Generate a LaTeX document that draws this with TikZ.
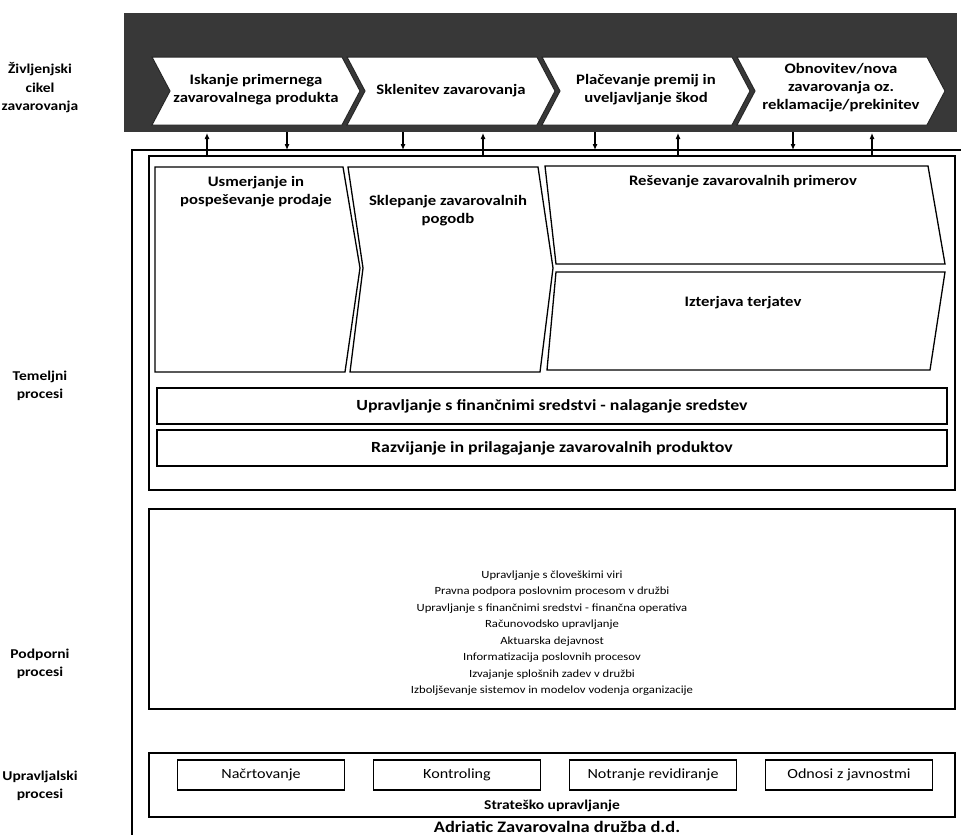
\documentclass[tikz,border=0pt]{standalone}
\usepackage{fontspec}
\setmainfont[FakeStretch=1.15]{Carlito}
\usetikzlibrary{arrows.meta}
\begin{document}
\begin{tikzpicture}[x=1pt,y=-1pt,
  frame/.style={draw=black,line width=1.6pt,inner sep=0pt,outer sep=0pt},
  shp/.style={draw=black,line width=1.3pt,fill=white,line join=miter},
  chev/.style={draw=black!85,line width=1pt,fill=white},
  bar/.style={draw=black,line width=1.3pt,fill=white,inner sep=0pt,minimum width=790pt,minimum height=36pt,
    font=\bfseries\fontsize{15.5}{18}\selectfont},
  sbox/.style={draw=black,line width=1.2pt,fill=white,inner sep=0pt,minimum width=167pt,minimum height=30pt,
    font=\fontsize{14}{16}\selectfont},
  btxt/.style={font=\bfseries\fontsize{14.5}{18}\selectfont,align=center,inner sep=0pt},
  side/.style={font=\bfseries\fontsize{13.5}{18.5}\selectfont,align=center,inner sep=0pt},
  list/.style={font=\fontsize{11}{16.5}\selectfont,align=center,inner sep=0pt},
  uparr/.style={line width=1.1pt,-{Latex[length=6pt,width=5pt]}},
  dnarr/.style={line width=1.1pt,-{Latex[length=6pt,width=5pt]}}
]
\useasboundingbox (0,0) rectangle (961,835);

% life-cycle band
\fill[black!78] (124,13) rectangle (957,132);
\foreach \i/\L in {1/152,2/347,3/542,4/737}{
  \draw[chev] (\L,57) -- ({\L+190},57) -- ({\L+208},91) -- ({\L+190},125)
     -- (\L,125) -- ({\L+18},91) -- cycle;
}
\node[btxt] (c1) at (256,90) {Iskanje primernega\\zavarovalnega produkta};
\node[btxt] (c2) at (451,91) {Sklenitev zavarovanja};
\node[btxt] (c3) at (646,90) {Plačevanje premij in\\uveljavljanje škod};
\node[btxt] (c4) at (841,88) {Obnovitev/nova\\zavarovanja oz.\\reklamacije/prekinitev};

% outer guide lines
\draw[line width=1.4pt] (132,835) -- (132,150) -- (961,150);

% arrows between the life cycle and the core processes
\foreach \n/\x in {1/207,2/483,3/678,4/872}{
  \coordinate (ub\n) at (\x,157);
  \coordinate (ut\n) at (\x,133);
  \draw[uparr] (ub\n) -- (ut\n);
}
\foreach \n/\x in {1/287,2/403,3/595,4/793}{
  \coordinate (dt\n) at (\x,132);
  \coordinate (db\n) at (\x,150);
  \draw[dnarr] (dt\n) -- (db\n);
}

% core processes
\node[frame,minimum width=806pt,minimum height=334pt] (core) at (552,323) {};
\draw[shp] (155,167) -- (343,167) -- (360,268) -- (345,372) -- (155,372) -- cycle;
\draw[shp] (348,167) -- (538,167) -- (553,268) -- (540,372) -- (350,372) -- (363,268) -- cycle;
\draw[shp] (545,166) -- (928,166) -- (945,264) -- (556,264) -- cycle;
\draw[shp] (556,272) -- (945,272) -- (930,370) -- (547,370) -- cycle;
\node[btxt] (p1) at (256,192) {Usmerjanje in\\pospeševanje prodaje};
\node[btxt] (p2) at (448,211) {Sklepanje zavarovalnih\\pogodb};
\node[btxt] (p3) at (743,182) {Reševanje zavarovalnih primerov};
\node[btxt] (p4) at (743,303) {Izterjava terjatev};
\node[bar] (b1) at (552,406) {Upravljanje s finančnimi sredstvi - nalaganje sredstev};
\node[bar] (b2) at (552,448) {Razvijanje in prilagajanje zavarovalnih produktov};

% support processes
\node[frame,minimum width=806pt,minimum height=200pt] (supp) at (552,609) {};
\node[list] (lst) at (552,633) {Upravljanje s človeškimi viri\\
Pravna podpora poslovnim procesom v družbi\\
Upravljanje s finančnimi sredstvi - finančna operativa\\
Računovodsko upravljanje\\
Aktuarska dejavnost\\
Informatizacija poslovnih procesov\\
Izvajanje splošnih zadev v družbi\\
Izboljševanje sistemov in modelov vodenja organizacije};

% management processes
\node[frame,minimum width=806pt,minimum height=64pt] (mgmt) at (552,785) {};
\node[sbox] (m1) at (261,775) {Načrtovanje};
\node[sbox] (m2) at (457,775) {Kontroling};
\node[sbox] (m3) at (653,775) {Notranje revidiranje};
\node[sbox] (m4) at (849,775) {Odnosi z javnostmi};
\node[btxt,font=\bfseries\fontsize{13.5}{16}\selectfont] (strat) at (552,806) {Strateško upravljanje};
\node[btxt,font=\bfseries\fontsize{16}{18}\selectfont] (firm) at (557,827) {Adriatic Zavarovalna družba d.d.};

% row labels
\node[side] (l1) at (40,88) {Življenjski\\cikel\\zavarovanja};
\node[side] (l2) at (40,386) {Temeljni\\procesi};
\node[side] (l3) at (40,664) {Podporni\\procesi};
\node[side] (l4) at (40,786) {Upravljalski\\procesi};
\end{tikzpicture}
\end{document}
